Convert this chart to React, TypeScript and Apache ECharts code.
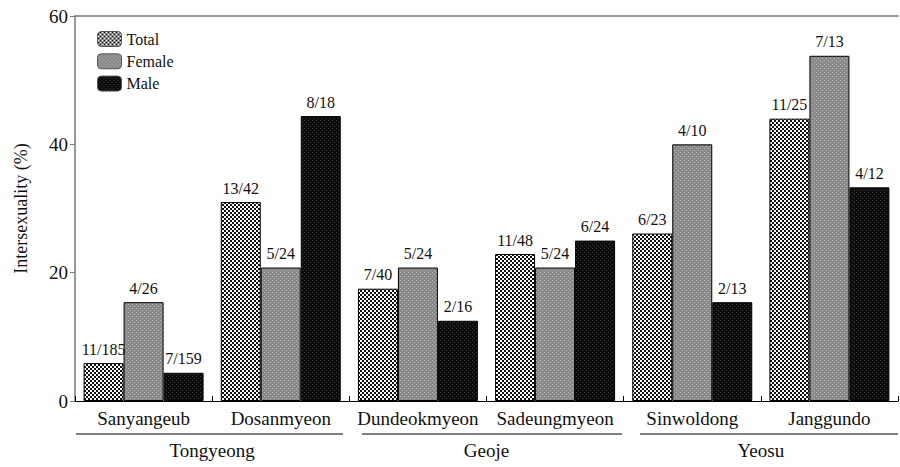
import React, { useEffect, useRef } from "react";
import * as echarts from "echarts";

const sites = ["Sanyangeub", "Dosanmyeon", "Dundeokmyeon", "Sadeungmyeon", "Sinwoldong", "Janggundo"];
const regions = ["Tongyeong", "Geoje", "Yeosu"];
const seriesNames = ["Total", "Female", "Male"];
const totalValues = [5.9, 31.0, 17.5, 22.9, 26.1, 44.0];
const femaleValues = [15.4, 20.8, 20.8, 20.8, 40.0, 53.8];
const maleValues = [4.4, 44.4, 12.5, 25.0, 15.4, 33.3];
const totalLabels = ["11/185", "13/42", "7/40", "11/48", "6/23", "11/25"];
const femaleLabels = ["4/26", "5/24", "5/24", "5/24", "4/10", "7/13"];
const maleLabels = ["7/159", "8/18", "2/16", "6/24", "2/13", "4/12"];
const yTicks = [0, 20, 40, 60];

const FONT = "Liberation Serif";

function makePattern(bg: string, dot: string, kind: "checker" | "dots"): string {
  const c = document.createElement("canvas");
  c.width = 4;
  c.height = 4;
  const ctx = c.getContext("2d")!;
  ctx.fillStyle = bg;
  ctx.fillRect(0, 0, 4, 4);
  ctx.fillStyle = dot;
  if (kind === "checker") {
    ctx.fillRect(0, 0, 2, 2);
    ctx.fillRect(2, 2, 2, 2);
  } else {
    ctx.fillRect(0, 0, 1, 1);
    ctx.fillRect(2, 2, 1, 1);
  }
  return c.toDataURL();
}

export default function App() {
  const ref = useRef<HTMLDivElement>(null);
  useEffect(() => {
    if (!ref.current) return;
    const chart = echarts.init(ref.current, undefined, { renderer: "svg" });
    const pats = [
      makePattern("#111111", "#ffffff", "checker"),
      makePattern("#8a8a8a", "#b5b5b5", "dots"),
      makePattern("#0c0c0c", "#3a3a3a", "dots"),
    ];
    const vals = [totalValues, femaleValues, maleValues];
    const labs = [totalLabels, femaleLabels, maleLabels];
    const series = seriesNames.map((name, i) => ({
      name,
      type: "bar",
      xAxisIndex: 0,
      yAxisIndex: 0,
      barWidth: 40,
      barGap: "0%",
      data: vals[i],
      itemStyle: {
        color: { image: pats[i], repeat: "repeat" },
        borderColor: "#000",
        borderWidth: 1,
      },
      label: {
        show: true,
        position: "top",
        distance: 6,
        fontFamily: FONT,
        fontSize: 16,
        color: "#111",
        formatter: (p: any) => labs[i][p.dataIndex],
      },
    }));
    const lineStyle = { stroke: "#000", lineWidth: 1.2 };
    chart.setOption({
      animation: false,
      backgroundColor: "#fff",
      textStyle: { fontFamily: FONT },
      grid: { left: 75, right: 2, top: 16, bottom: 66 },
      legend: {
        orient: "vertical",
        left: 92,
        top: 26,
        itemWidth: 24,
        itemHeight: 15,
        itemGap: 6.3,
        textStyle: { fontFamily: FONT, fontSize: 16, color: "#111" },
        itemStyle: { borderColor: "#555", borderWidth: 1 },
        data: seriesNames,
      },
      xAxis: [
        {
          type: "category",
          data: sites,
          position: "bottom",
          axisLine: { lineStyle: { color: "#000", width: 1 } },
          axisTick: { show: true, inside: true, length: 5, lineStyle: { color: "#000" } },
          axisLabel: { interval: 0, fontFamily: FONT, fontSize: 19, color: "#111", margin: 8 },
        },
        {
          type: "category",
          data: regions,
          position: "bottom",
          offset: 37,
          axisLine: { show: false },
          axisTick: { show: false },
          axisLabel: { interval: 0, fontFamily: FONT, fontSize: 19, color: "#111", margin: 3 },
        },
        {
          type: "category",
          data: sites,
          position: "top",
          axisLine: { lineStyle: { color: "#777", width: 1.5 } },
          axisTick: { show: false },
          axisLabel: { show: false },
        },
      ],
      yAxis: {
        type: "value",
        min: yTicks[0],
        max: yTicks[yTicks.length - 1],
        interval: 20,
        name: "Intersexuality (%)",
        nameLocation: "middle",
        nameGap: 45,
        nameTextStyle: { fontFamily: FONT, fontSize: 18, color: "#111" },
        axisLine: { show: true, lineStyle: { color: "#777", width: 1.5 } },
        axisTick: { show: true, length: 5, lineStyle: { color: "#777" } },
        axisLabel: { fontFamily: FONT, fontSize: 19, color: "#111", margin: 7 },
        splitLine: { show: false },
      },
      graphic: [
        { type: "line", shape: { x1: 76, y1: 434, x2: 343, y2: 434 }, style: lineStyle },
        { type: "line", shape: { x1: 362, y1: 434, x2: 622, y2: 434 }, style: lineStyle },
        { type: "line", shape: { x1: 640, y1: 434, x2: 898, y2: 434 }, style: lineStyle },
      ],
      series,
    });
    return () => chart.dispose();
  }, []);
  return <div ref={ref} style={{ width: 900, height: 467, position: "absolute", left: 0, top: 0 }} />;
}
